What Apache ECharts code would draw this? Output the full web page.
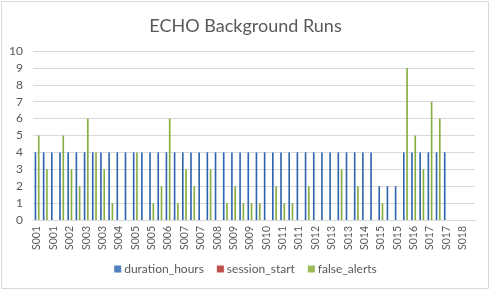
<!DOCTYPE html>
<html>
<head>
<meta charset="utf-8">
<script src="https://cdn.jsdelivr.net/npm/echarts@6/dist/echarts.min.js"></script>
<style>html,body{margin:0;padding:0;background:#fff;}#c{width:491px;height:292px;}</style>
</head>
<body>
<div id="c"></div>
<script>
const categories = [
 'S001','S001','S001','S002','S002','S002','S003','S003','S003',
 'S004','S004','S004','S005','S005','S005','S006','S006','S006',
 'S007','S007','S007','S008','S008','S008','S009','S009','S009',
 'S010','S010','S010','S011','S011','S011','S012','S012','S012',
 'S013','S013','S013','S014','S014','S014','S015','S015','S015',
 'S016','S016','S016','S017','S017','S017','S018','S018','S018'
];
const durationHours = [
 4,4,4, 4,4,4, 4,4,4,
 4,4,4, 4,4,4, 4,4,4,
 4,4,4, 4,4,4, 4,4,4,
 4,4,4, 4,4,4, 4,4,4,
 4,4,4, 4,4,4, 2,2,2,
 4,4,4, 4,4,4, null,null,null
];
const sessionStart = [
 0,0,0, 0,0,0, 0,0,0,
 0,0,0, 0,0,0, 0,0,0,
 0,0,0, 0,0,0, 0,0,0,
 0,0,0, 0,0,0, 0,0,0,
 0,0,0, 0,0,0, 0,0,0,
 0,0,0, 0,0,0, null,null,null
];
const falseAlerts = [
 5,3,0, 5,3,2, 6,4,3,
 1,0,0, 4,0,1, 2,6,1,
 3,2,0, 3,0,1, 2,1,1,
 1,0,2, 1,1,0, 2,0,0,
 0,3,0, 2,0,0, 1,0,0,
 9,5,3, 7,6,0, null,null,null
];
const yTicks = [0,1,2,3,4,5,6,7,8,9,10];

const chart = echarts.init(document.getElementById('c'), null, {renderer:'canvas'});
const txt = '#595959';
chart.setOption({
  animation: false,
  backgroundColor: '#fff',
  title: {
    text: 'ECHO Background Runs',
    left: 'center', top: 12,
    textStyle: {fontFamily: 'Lato', fontSize: 18, fontWeight: 'normal', color: txt}
  },
  graphic: [{
    type: 'rect', shape: {x: 1.5, y: 1.5, width: 487, height: 287},
    style: {fill: 'none', stroke: '#D9D9D9', lineWidth: 1}, silent: true, z: -1
  }],
  legend: {
    bottom: 12, left: 'center',
    itemWidth: 7, itemHeight: 7, itemGap: 13,
    icon: 'rect',
    textStyle: {fontFamily: 'Lato', fontSize: 12, color: txt, padding: [0,0,0,-2]},
    data: [
      {name: 'duration_hours', itemStyle: {color: '#4F81BD'}},
      {name: 'session_start', itemStyle: {color: '#C0504D'}},
      {name: 'false_alerts', itemStyle: {color: '#9BBB59'}}
    ]
  },
  grid: {left: 33, right: 16, top: 51, bottom: 72, containLabel: false},
  xAxis: {
    type: 'category', data: categories,
    axisTick: {show: false},
    axisLine: {lineStyle: {color: '#D9D9D9'}},
    axisLabel: {interval: 1, rotate: 90, fontFamily: 'Lato', fontSize: 10.5, color: txt, margin: 6}
  },
  yAxis: {
    type: 'value', min: 0, max: 10, interval: 1,
    axisLine: {show: false}, axisTick: {show: false},
    splitLine: {lineStyle: {color: '#D9D9D9'}},
    axisLabel: {fontFamily: 'Lato', fontSize: 12, color: txt, margin: 10,
      formatter: v => yTicks.includes(v) ? String(v) : ''}
  },
  series: [
    {name: 'duration_hours', type: 'bar', data: durationHours, barGap: '0%', barCategoryGap: '40%',
     itemStyle: {color: '#2F65AF'}},
    {name: 'session_start', type: 'bar', data: sessionStart, barGap: '0%', barCategoryGap: '40%',
     itemStyle: {color: '#C0504D'}},
    {name: 'false_alerts', type: 'bar', data: falseAlerts, barGap: '0%', barCategoryGap: '40%',
     itemStyle: {color: '#86AE3E'}}
  ]
});
</script>
</body>
</html>
